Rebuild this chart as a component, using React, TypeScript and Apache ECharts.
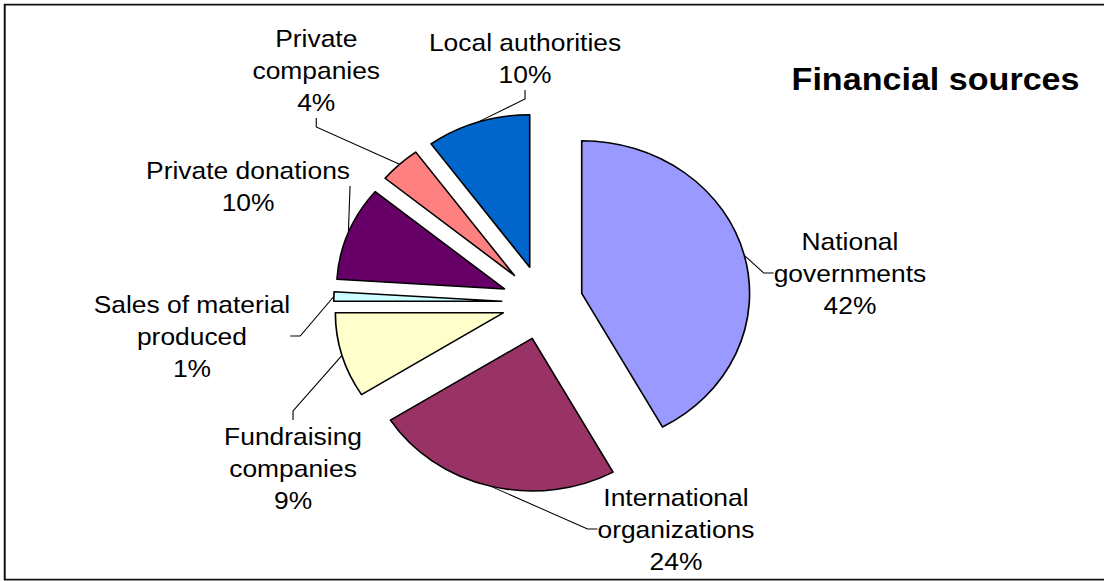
import React, { useEffect, useRef } from 'react';
import * as echarts from 'echarts';

// Data
const categories = [
  'National\ngovernments',
  'International\norganizations',
  'Fundraising\ncompanies',
  'Sales of material\nproduced',
  'Private donations',
  'Private\ncompanies',
  'Local authorities',
];
const values = [42, 24, 9, 1, 10, 4, 10];
const titleText = 'Financial sources';

// Styles / layout
const colors = ['#9999FF', '#993366', '#FFFFCC', '#CCFFFF', '#660066', '#FF8080', '#0066CC'];
const labelPositions: number[][] = [
  [772.7, 273],
  [614.5, 529],
  [266.4, 468],
  [174.5, 336],
  [225.5, 186],
  [287.5, 70],
  [477.3, 58],
];

const STRETCH = 1.1;
const H = 581;
const W = 1104 / STRETCH;
const FONT = '"Liberation Sans", Arial, sans-serif';
const CENTER = [493, 302.5];
const RADIUS = 152.6;
const EXPLODE = 37;

export default function App() {
  const ref = useRef<HTMLDivElement>(null);

  useEffect(() => {
    if (!ref.current) return;
    const chart = echarts.init(ref.current, null, { renderer: 'svg', width: W, height: H });

    const total = values.reduce((a, b) => a + b, 0);
    let cum = 0;
    const series = values.map((v, k) => {
      const mid = ((cum + v / 2) / total) * Math.PI * 2;
      cum += v;
      const center = [CENTER[0] + EXPLODE * Math.sin(mid), CENTER[1] - EXPLODE * Math.cos(mid)];
      return {
        type: 'pie',
        center,
        radius: RADIUS,
        startAngle: 90,
        clockwise: true,
        avoidLabelOverlap: false,
        silent: true,
        emphasis: { disabled: true },
        itemStyle: { borderColor: '#000', borderWidth: 1.5 },
        label: {
          show: true,
          position: 'outside',
          formatter: '{b}\n{c}%',
          color: '#000',
          fontFamily: FONT,
          fontSize: 24,
          lineHeight: 32,
          align: 'center',
        },
        labelLine: {
          show: true,
          length: 10,
          length2: 9,
          smooth: false,
          lineStyle: { color: '#000', width: 1 },
        },
        labelLayout: (p: any) => {
          if (p.dataIndex !== k) return {};
          const pos = labelPositions[k];
          return { x: pos[0], y: pos[1], align: 'center', verticalAlign: 'middle' };
        },
        data: values.map((val, i) =>
          i === k
            ? { name: categories[i], value: val, itemStyle: { color: colors[i] } }
            : {
                name: categories[i],
                value: val,
                itemStyle: { color: 'rgba(0,0,0,0)', borderWidth: 0 },
                label: { show: false },
                labelLine: { show: false },
              }
        ),
      };
    });

    chart.setOption({
      animation: false,
      backgroundColor: '#ffffff',
      graphic: [
        {
          type: 'rect',
          shape: { x: 4.3, y: 4.7, width: 1002, height: 575 },
          style: { fill: 'none', stroke: '#111', lineWidth: 1.8 },
          silent: true,
        },
        {
          type: 'text',
          x: 850.5,
          y: 79.5,
          style: {
            text: titleText,
            fill: '#000',
            font: `bold 31px ${FONT}`,
            textAlign: 'center',
            textVerticalAlign: 'middle',
          },
          silent: true,
        },
      ],
      series,
    });
    return () => chart.dispose();
  }, []);

  return (
    <div
      ref={ref}
      style={{
        position: 'fixed',
        left: 0,
        top: 0,
        width: W,
        height: H,
        transform: `scaleX(${STRETCH})`,
        transformOrigin: '0 0',
      }}
    />
  );
}
